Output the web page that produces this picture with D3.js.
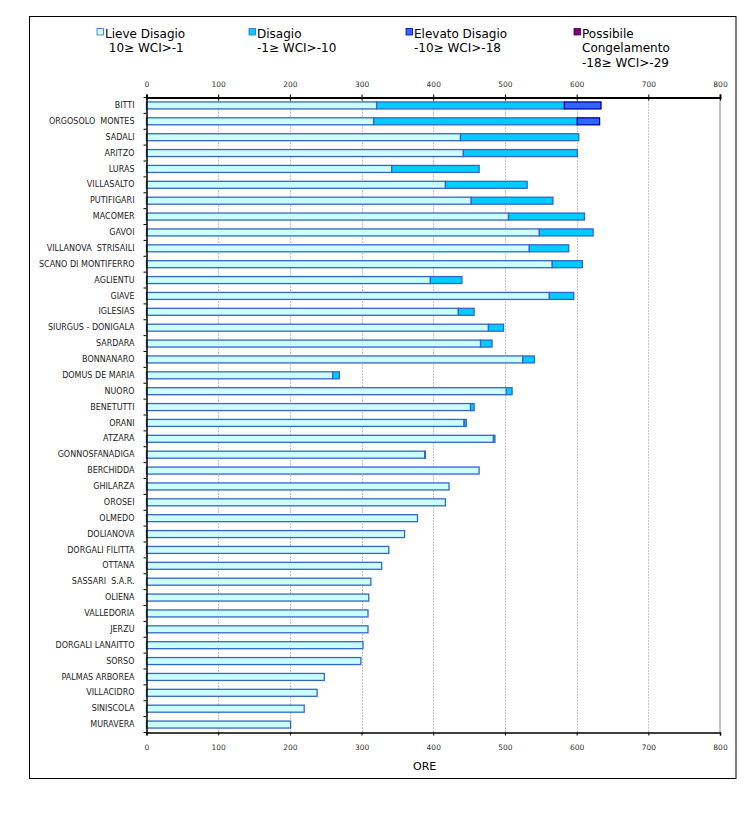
<!DOCTYPE html>
<html>
<head>
<meta charset="utf-8">
<script src="https://cdn.jsdelivr.net/npm/d3@7/dist/d3.min.js"></script>
<style>
  html, body { margin: 0; padding: 0; background: #fff; }
  svg { display: block; }
</style>
</head>
<body>
<svg id="chart" width="756" height="815"></svg>
<script>
const categories = ["BITTI","ORGOSOLO  MONTES","SADALI","ARITZO","LURAS","VILLASALTO","PUTIFIGARI","MACOMER","GAVOI","VILLANOVA  STRISAILI","SCANO DI MONTIFERRO","AGLIENTU","GIAVE","IGLESIAS","SIURGUS - DONIGALA","SARDARA","BONNANARO","DOMUS DE MARIA","NUORO","BENETUTTI","ORANI","ATZARA","GONNOSFANADIGA","BERCHIDDA","GHILARZA","OROSEI","OLMEDO","DOLIANOVA","DORGALI FILITTA","OTTANA","SASSARI  S.A.R.","OLIENA","VALLEDORIA","JERZU","DORGALI LANAITTO","SORSO","PALMAS ARBOREA","VILLACIDRO","SINISCOLA","MURAVERA"];
const lieve = [321,317,438,442,342,417,453,505,548,534,566,396,562,435,477,466,525,260,502,452,443,484,388,464,422,417,378,360,338,328,313,310,309,309,302,299,248,238,220,201];
const disagio = [262,284,165,159,122,114,114,106,75,55,42,44,34,22,21,16,16,9,8,5,3,2,1,0,0,0,0,0,0,0,0,0,0,0,0,0,0,0,0,0];
const elevato = [51,31,0,0,0,0,0,0,0,0,0,0,0,0,0,0,0,0,0,0,0,0,0,0,0,0,0,0,0,0,0,0,0,0,0,0,0,0,0,0];
const congelamento = [0,0,0,0,0,0,0,0,0,0,0,0,0,0,0,0,0,0,0,0,0,0,0,0,0,0,0,0,0,0,0,0,0,0,0,0,0,0,0,0];
const seriesNames = ["Lieve Disagio","Disagio","Elevato Disagio","Possibile Congelamento"];
const legendLines = [["Lieve Disagio"," 10\u2265 WCI>-1"],["Disagio","-1\u2265 WCI>-10"],["Elevato Disagio","-10\u2265 WCI>-18"],["Possibile","Congelamento","-18\u2265 WCI>-29"]];
const xTicks = [0,100,200,300,400,500,600,700,800];
const axisTitle = "ORE";

(function () {
const fills = ["#CCFFFF","#00CCFF","#3366FF","#800080"];
const strokes = ["#3366CC","#3366CC","#0000AA","#400040"];

const svg = d3.select("#chart");
svg.append("rect").attr("x",0).attr("y",0).attr("width",756).attr("height",815).attr("fill","#fff");
svg.append("rect").attr("x",29.5).attr("y",16.5).attr("width",706.5).attr("height",762).attr("fill","none").attr("stroke","#000").attr("stroke-width",1);

const pL = 146.5, pR = 720, pT = 97.5, pB = 732.5;
const x = d3.scaleLinear().domain([0,800]).range([pL,pR]);
const y = d3.scaleBand().domain(categories).range([pT,pB]).paddingInner(0.56).paddingOuter(0.28);

// gridlines
svg.append("g").selectAll("line").data(xTicks.filter(d => d > 0 && d < 800)).join("line")
  .attr("x1", d => Math.round(x(d)) + 0.5).attr("x2", d => Math.round(x(d)) + 0.5)
  .attr("y1", pT).attr("y2", pB)
  .attr("stroke","#888").attr("stroke-width",1).attr("stroke-dasharray","1,2");
svg.append("line").attr("x1", x(800)).attr("x2", x(800)).attr("y1", pT).attr("y2", pB)
  .attr("stroke","#888").attr("stroke-width",1);

// stacked data
const rows = categories.map((c,i) => ({cat:c, v:[lieve[i],disagio[i],elevato[i],congelamento[i]]}));
const segs = [];
rows.forEach(r => {
  let acc = 0;
  r.v.forEach((v,k) => { if (v > 0) segs.push({cat:r.cat, k, x0:acc, x1:acc+v}); acc += v; });
});
svg.append("g").selectAll("rect").data(segs).join("rect")
  .attr("x", d => x(d.x0)).attr("width", d => x(d.x1) - x(d.x0))
  .attr("y", d => y(d.cat)).attr("height", y.bandwidth())
  .attr("fill", d => fills[d.k]).attr("stroke", d => strokes[d.k]).attr("stroke-width",1.3);

// axes
const fontTick = "DejaVu Sans, Verdana, sans-serif";
const gTop = svg.append("g").attr("transform",`translate(0,${pT})`)
  .call(d3.axisTop(x).tickValues(xTicks).tickSize(3).tickPadding(8).tickFormat(d3.format("d")));
gTop.select(".domain").attr("stroke","#000").attr("stroke-width",2);
gTop.selectAll(".tick line").attr("stroke","#000").attr("y2",-3).attr("y1",3);
gTop.selectAll("text").attr("font-family",fontTick).attr("font-size","7.5px").attr("fill","#333");

const gBot = svg.append("g").attr("transform",`translate(0,${pB})`)
  .call(d3.axisBottom(x).tickValues(xTicks).tickSize(3).tickPadding(9).tickFormat(d3.format("d")));
gBot.select(".domain").attr("stroke","#000").attr("stroke-width",1.5);
gBot.selectAll(".tick line").attr("stroke","#000");
gBot.selectAll("text").attr("font-family",fontTick).attr("font-size","7.5px").attr("fill","#333");

const gLeft = svg.append("g").attr("transform",`translate(${pL},0)`)
  .call(d3.axisLeft(y).tickSize(0).tickPadding(12));
gLeft.select(".domain").attr("stroke","#000").attr("stroke-width",1.5);
gLeft.selectAll("text").attr("font-family",fontTick).attr("font-size","8px").attr("fill","#222")
  .style("white-space","pre");
// boundary ticks between categories
const step = y.step();
svg.append("g").selectAll("line").data(d3.range(categories.length + 1)).join("line")
  .attr("x1", pL - 3).attr("x2", pL)
  .attr("y1", i => pT + i*step).attr("y2", i => pT + i*step)
  .attr("stroke","#000").attr("stroke-width",1);

// axis title
svg.append("text").attr("x",413).attr("y",770).text(axisTitle)
  .attr("font-family",fontTick).attr("font-size","11px").attr("fill","#000");

// legend
const legX = [97, 249, 406, 574];
const lg = svg.append("g");
legendLines.forEach((lines,k) => {
  lg.append("rect").attr("x",legX[k]).attr("y",28.5).attr("width",6.5).attr("height",6.5)
    .attr("fill",fills[k]).attr("stroke",strokes[k]).attr("stroke-width",0.8);
  const t = lg.append("text").attr("font-family",fontTick).attr("font-size","12px").attr("fill","#000")
    .style("white-space","pre");
  lines.forEach((ln,j) => {
    t.append("tspan").attr("x", legX[k] + 8).attr("y", 37.5 + j*14.5).text(ln);
  });
});
})();
</script>
</body>
</html>
